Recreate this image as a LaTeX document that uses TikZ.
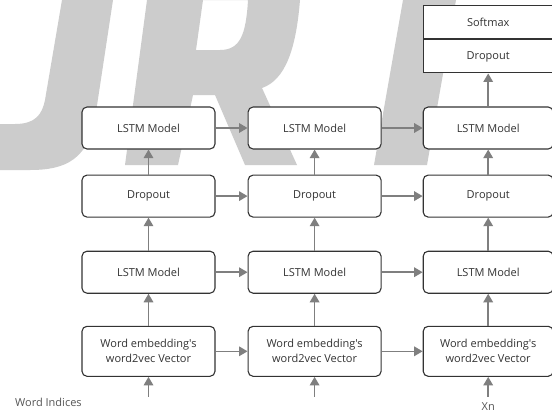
\documentclass[tikz,border=0pt]{standalone}
\usepackage{fontspec}
\setmainfont{Open Sans}[Ligatures=TeXOff]
\usetikzlibrary{positioning}
\usetikzlibrary{arrows.meta}
\definecolor{wmgray}{HTML}{CCCCCC}
\definecolor{linegray}{HTML}{7F7F7F}
\definecolor{boxline}{HTML}{333333}
\definecolor{lblgray}{HTML}{555555}
\tikzset{
  blk/.style={draw=boxline, line width=1.1pt, rounded corners=5pt, fill=white,
    minimum width=133pt, minimum height=42pt, inner sep=0pt, align=center,
    text=boxline, font=\fontsize{11}{15}\selectfont},
  sqblk/.style={blk, rounded corners=0pt, minimum width=130pt, minimum height=33pt},
  flow/.style={draw=linegray, line width=1.5pt, -{Triangle[length=8.5pt,width=9.5pt]}},
  lbl/.style={inner sep=0pt, text=lblgray, font=\fontsize{11}{13}\selectfont},
}

\begin{document}
\begin{tikzpicture}[x=1pt,y=-1pt]
\useasboundingbox[fill=white] (0,0) rectangle (552,410);

% watermark letters behind the diagram
\fill[wmgray] (62,0) -- (113,0) -- (96,112) .. controls (90,160) and (65,170) .. (30,170)
  -- (0,170) -- (0,124) -- (15,124) .. controls (35,124) and (42,115) .. (45,100) -- cycle;
\fill[wmgray, even odd rule] (147,0) -- (300,0) .. controls (296,50) and (285,80) .. (262,88)
  -- (297,165) -- (245,165) -- (215,95) -- (193,95) -- (178,165) -- (125,165) -- cycle
  (203,0) -- (248,0) .. controls (246,35) and (240,50) .. (220,50) -- (196,50) -- cycle;
\fill[wmgray] (403,0) -- (456,0) -- (427,165) -- (374,165) -- cycle;

% upper LSTM row
\node[blk] (lstmUpA) at (148.5,128) {LSTM Model};
\node[blk, right=32pt of lstmUpA] (lstmUpB) {LSTM Model};
\node[blk,
    minimum width=130pt,
    right=41pt of lstmUpB
    ] (lstmUpC) {LSTM Model};

% dropout row
\node[blk, below=25pt of lstmUpA] (dropA) {Dropout};
\node[blk, below=25pt of lstmUpB] (dropB) {Dropout};
\node[blk, minimum width=130pt, below=25pt of lstmUpC] (dropC) {Dropout};

% lower LSTM row
\node[blk, below=33pt of dropA] (lstmLoA) {LSTM Model};
\node[blk, below=33pt of dropB] (lstmLoB) {LSTM Model};
\node[blk, minimum width=130pt, below=33pt of dropC] (lstmLoC) {LSTM Model};

% embedding row
\node[blk, minimum height=50pt, below=32pt of lstmLoA] (embA) {Word embedding's\\word2vec Vector};
\node[blk, minimum height=50pt, below=32pt of lstmLoB] (embB) {Word embedding's\\word2vec Vector};
\node[blk,
    minimum width=130pt,
    minimum height=50pt,
    below=32pt of lstmLoC
    ] (embC) {Word embedding's\\word2vec Vector};

% output stack
\node[sqblk, above=33pt of lstmUpC] (dropTop) {Dropout};
\node[sqblk, above=0pt of dropTop] (softmax) {Softmax};

% inputs
\coordinate[below=20pt of embA] (inA);
\coordinate[below=20pt of embB] (inB);
\coordinate[below=20pt of embC] (inC);
\node[lbl, below=15pt of inA] (xA) {X1};
\node[lbl, below=15pt of inB] (xB) {X2};
\node[lbl, below=6pt of inC] (xC) {Xn};
\node[lbl, anchor=north west] (idx) at (15,398) {Word Indices};

\draw[flow] (inA) -- (embA);
\draw[flow] (inB) -- (embB);
\draw[flow] (inC) -- (embC);

\draw[flow] (embA) -- (embB);
\draw[flow] (embB) -- (embC);
\draw[flow] (lstmLoA) -- (lstmLoB);
\draw[flow] (lstmLoB) -- (lstmLoC);
\draw[flow] (dropA) -- (dropB);
\draw[flow] (dropB) -- (dropC);
\draw[flow] (lstmUpA) -- (lstmUpB);
\draw[flow] (lstmUpB) -- (lstmUpC);

\draw[flow] (embA) -- (lstmLoA);
\draw[flow] (embB) -- (lstmLoB);
\draw[flow] (embC) -- (lstmLoC);
\draw[flow] (lstmLoA) -- (dropA);
\draw[flow] (lstmLoB) -- (dropB);
\draw[flow] (lstmLoC) -- (dropC);
\draw[flow] (dropA) -- (lstmUpA);
\draw[flow] (dropB) -- (lstmUpB);
\draw[flow] (dropC) -- (lstmUpC);
\draw[flow] (lstmUpC) -- (dropTop);
\end{tikzpicture}
\end{document}
